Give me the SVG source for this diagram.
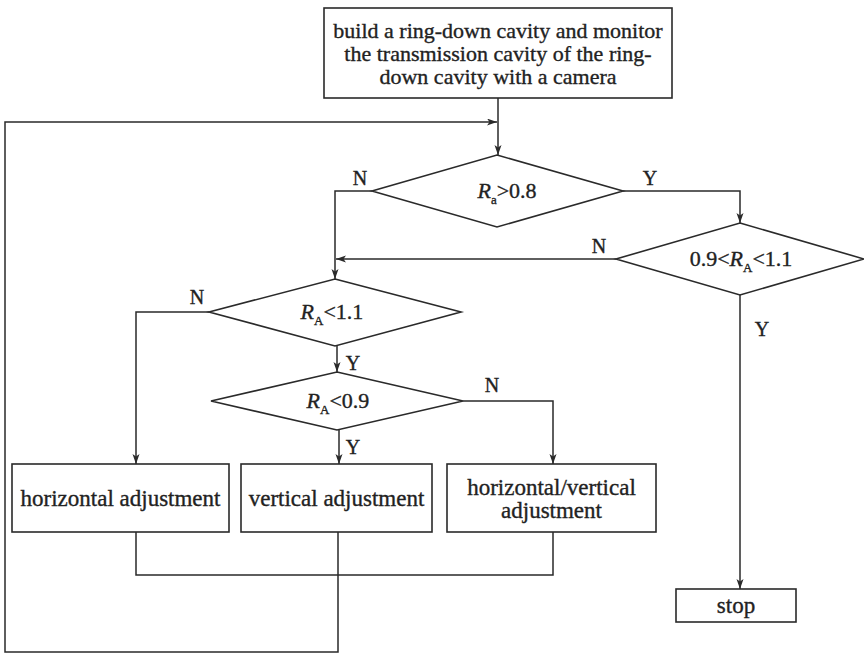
<svg xmlns="http://www.w3.org/2000/svg" width="864" height="654" viewBox="0 0 864 654" font-family="'Liberation Serif', 'DejaVu Serif', 'Times New Roman', serif">
<defs>
<style>
.box{fill:#fff;stroke:#2a2a2a;stroke-width:1.6}
.ln{fill:none;stroke:#2a2a2a;stroke-width:1.5}
text{font-family:'Liberation Serif','DejaVu Serif','Times New Roman',serif;fill:#222;stroke:#222;stroke-width:0.35}
.t{font-size:22px;text-anchor:middle}
.b{font-size:23px;text-anchor:middle}
.d{font-size:22px;text-anchor:middle}
.lbl{font-size:20px;text-anchor:middle}
.sub{font-size:13px;font-style:normal}
</style>
<marker id="ah" markerWidth="11" markerHeight="8" refX="10" refY="3.5" orient="auto" markerUnits="userSpaceOnUse">
<path d="M0,0 L10,3.5 L0,7 L2.5,3.5 z" fill="#2a2a2a"/>
</marker>
</defs>
<rect width="864" height="654" fill="#fff"/>

<g id="connectors">
<polyline class="ln" points="498,98 498,155" marker-end="url(#ah)"/>
<polyline class="ln" points="338,532 338,652 5,652 5,122 497,122" marker-end="url(#ah)"/>
<polyline class="ln" points="372,191 335,191 335,279" marker-end="url(#ah)"/>
<polyline class="ln" points="623,191 740,191 740,223" marker-end="url(#ah)"/>
<polyline class="ln" points="616,259 336,259" marker-end="url(#ah)"/>
<polyline class="ln" points="740,295 740,589" marker-end="url(#ah)"/>
<polyline class="ln" points="209,312 136,312 136,464" marker-end="url(#ah)"/>
<polyline class="ln" points="337,346 337,372" marker-end="url(#ah)"/>
<polyline class="ln" points="463,401 553,401 553,464" marker-end="url(#ah)"/>
<polyline class="ln" points="339,430 339,464" marker-end="url(#ah)"/>
<polyline class="ln" points="136,532 136,575 553,575 553,532"/>
<text class="lbl" x="360" y="185">N</text>
<text class="lbl" x="650" y="185">Y</text>
<text class="lbl" x="599" y="253">N</text>
<text class="lbl" x="762" y="336">Y</text>
<text class="lbl" x="197" y="304">N</text>
<text class="lbl" x="353" y="370">Y</text>
<text class="lbl" x="492" y="392">N</text>
<text class="lbl" x="353" y="454">Y</text>
</g>

<g id="start">
<rect class="box" x="324" y="8" width="348" height="90"/>
<text class="t" x="498" y="38">build a ring-down cavity and monitor</text>
<text class="t" x="498" y="61">the transmission cavity of the ring-</text>
<text class="t" x="498" y="84">down cavity with a camera</text>
</g>

<g id="d1">
<polygon class="box" points="497,155 623,191 497,227 372,191"/>
<text class="d" x="507" y="198"><tspan font-style="italic">R</tspan><tspan class="sub" dy="6">a</tspan><tspan dy="-6">&gt;0.8</tspan></text>
</g>

<g id="d2">
<polygon class="box" points="740,223 864,259 740,295 616,259"/>
<text class="d" x="741" y="266">0.9&lt;<tspan font-style="italic">R</tspan><tspan class="sub" dy="6">A</tspan><tspan dy="-6">&lt;1.1</tspan></text>
</g>

<g id="d3">
<polygon class="box" points="335,279 461,312 335,346 209,312"/>
<text class="d" x="332" y="319"><tspan font-style="italic">R</tspan><tspan class="sub" dy="6">A</tspan><tspan dy="-6">&lt;1.1</tspan></text>
</g>

<g id="d4">
<polygon class="box" points="337,372 463,401 337,430 211,401"/>
<text class="d" x="338" y="408"><tspan font-style="italic">R</tspan><tspan class="sub" dy="6">A</tspan><tspan dy="-6">&lt;0.9</tspan></text>
</g>

<g id="horiz">
<rect class="box" x="12" y="464" width="217" height="68"/>
<text class="b" x="120.5" y="506">horizontal adjustment</text>
</g>

<g id="vert">
<rect class="box" x="241" y="464" width="191" height="68"/>
<text class="b" x="336.5" y="506">vertical adjustment</text>
</g>

<g id="hv">
<rect class="box" x="447" y="464" width="209" height="68"/>
<text class="b" x="551.5" y="495">horizontal/vertical</text>
<text class="b" x="551.5" y="518">adjustment</text>
</g>

<g id="stop">
<rect class="box" x="676" y="589" width="120" height="33"/>
<text class="b" x="736" y="613">stop</text>
</g>
</svg>
